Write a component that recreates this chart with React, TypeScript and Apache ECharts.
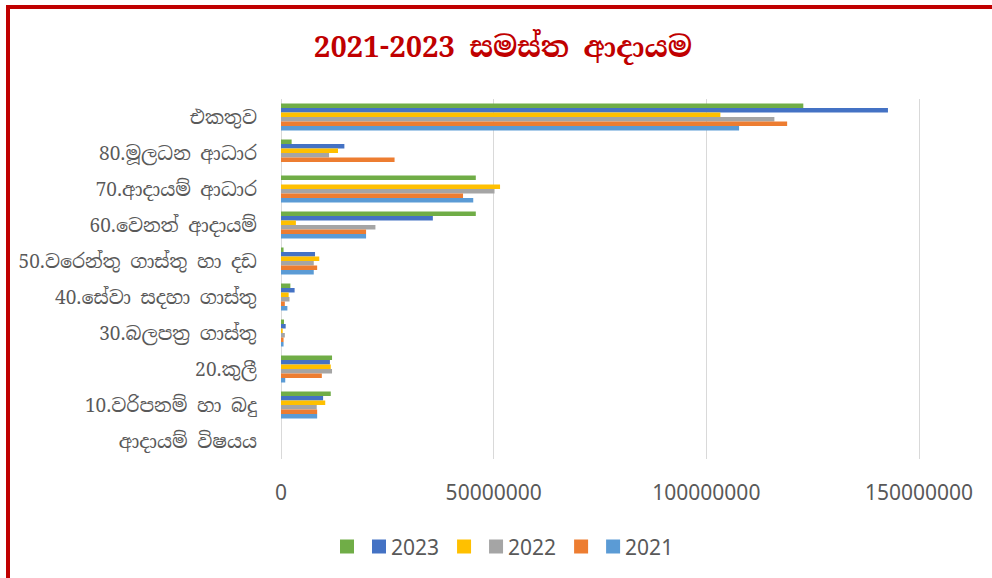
import React, { useEffect, useRef } from "react";
import * as echarts from "echarts";

const categories = [
  "ආදායම් විෂයය",
  "10.වරිපනම් හා බදු",
  "20.කුලී",
  "30.බලපත්‍ර ගාස්තු",
  "40.සේවා සදහා ගාස්තු",
  "50.වරෙන්තු ගාස්තු හා දඩ",
  "60.වෙනත් ආදායම්",
  "70.ආදායම් ආධාර",
  "80.මූලධන ආධාර",
  "එකතුව",
];

const seriesGreen = [0, 11700000, 12000000, 700000, 2200000, 600000, 45800000, 45800000, 2500000, 122800000];
const series2023 = [0, 9900000, 11500000, 1100000, 3200000, 8000000, 35700000, 0, 14900000, 142700000];
const seriesYellow = [0, 10400000, 11700000, 400000, 1800000, 9000000, 3500000, 51500000, 13400000, 103300000];
const series2022 = [0, 8400000, 12000000, 900000, 2000000, 7700000, 22200000, 50200000, 11300000, 116000000];
const seriesOrange = [0, 8500000, 9600000, 600000, 900000, 8500000, 20000000, 42800000, 26700000, 119000000];
const series2021 = [0, 8500000, 1000000, 600000, 1500000, 7700000, 20000000, 45200000, 0, 107700000];

const title = "2021-2023 සමස්ත ආදායම";

const SERIF = "'Iskoola Pota', 'Noto Serif Sinhala', 'Noto Sans Sinhala', 'Times New Roman', 'Liberation Serif', serif";
const SANS = "'Noto Sans', 'Open Sans', sans-serif";

export default function App() {
  const ref = useRef<HTMLDivElement>(null);
  useEffect(() => {
    if (!ref.current) return;
    const chart = echarts.init(ref.current, null, { renderer: "svg" });
    const mk = (name: string, data: number[], color: string) => ({
      name,
      type: "bar",
      data,
      itemStyle: { color },
      barGap: "0%",
      barCategoryGap: "25%",
    });
    chart.setOption({
      animation: false,
      backgroundColor: "#ffffff",
      graphic: [
        { type: "rect", shape: { x: 6, y: 5, width: 986, height: 4 }, style: { fill: "#C00000" } },
        { type: "rect", shape: { x: 6, y: 5, width: 4, height: 573 }, style: { fill: "#C00000" } },
        {
          type: "text",
          x: 503,
          y: 47,
          style: {
            text: title,
            textAlign: "center",
            textVerticalAlign: "middle",
            fill: "#C00000",
            font: `bold 29px ${SERIF}`,
          },
        },
      ],
      legend: {
        left: 335,
        top: 531,
        itemWidth: 14,
        itemHeight: 14,
        itemGap: 18,
        icon: "rect",
        data: ["_g", "2023", "_y", "2022", "_o", "2021"],
        formatter: (n: string) => (n.startsWith("_") ? "" : n),
        textStyle: { color: "#595959", fontSize: 21, fontFamily: SANS },
      },
      grid: { left: 281, right: 73, top: 99, bottom: 119, containLabel: false },
      xAxis: {
        type: "value",
        min: 0,
        max: 150000000,
        interval: 50000000,
        axisLine: { show: false },
        axisTick: { show: false },
        splitLine: { lineStyle: { color: "#d9d9d9", width: 1 } },
        axisLabel: {
          color: "#595959",
          fontSize: 21,
          fontFamily: SANS,
          margin: 22,
          formatter: (v: number) => String(v),
        },
      },
      yAxis: {
        type: "category",
        data: categories,
        axisLine: { show: false },
        axisTick: { show: false },
        axisLabel: { color: "#595959", fontSize: 19, fontFamily: SERIF, margin: 24 },
      },
      series: [
        mk("_g", seriesGreen, "#70AD47"),
        mk("2023", series2023, "#4472C4"),
        mk("_y", seriesYellow, "#FFC000"),
        mk("2022", series2022, "#A5A5A5"),
        mk("_o", seriesOrange, "#ED7D31"),
        mk("2021", series2021, "#5B9BD5"),
      ],
    });
    return () => chart.dispose();
  }, []);
  return (
    <div
      ref={ref}
      style={{ position: "fixed", left: 0, top: 0, width: 992, height: 578 }}
    />
  );
}
